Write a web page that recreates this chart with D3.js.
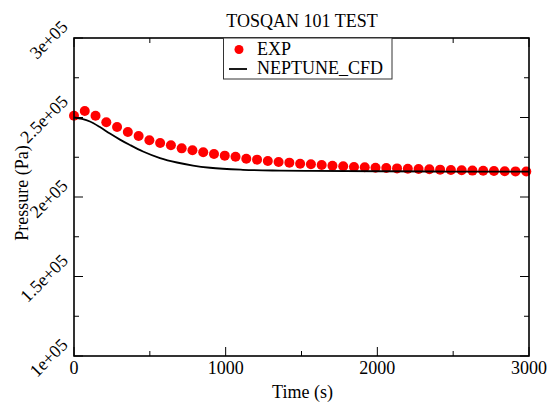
<!DOCTYPE html>
<html>
<head>
<meta charset="utf-8">
<script src="https://cdn.jsdelivr.net/npm/d3@7"></script>
<style>
  body { margin: 0; background: #fff; }
  text { font-family: "Liberation Serif", "DejaVu Serif", serif; fill: #000; }
</style>
</head>
<body>
<svg class="chart" width="552" height="403"></svg>
<script>
// chart size and plot margins
const w = 552
const h = 403
const margin = { top: 38, right: 23, bottom: 47, left: 74 }

// experimental points (time in s, pressure in Pa)
const expTime = [0, 71, 142, 213, 284, 355, 426, 497, 568, 639, 710, 781, 852, 923, 994,
  1065, 1136, 1207, 1278, 1349, 1420, 1491, 1562, 1633, 1704, 1775, 1846, 1917, 1988,
  2059, 2130, 2201, 2272, 2343, 2414, 2485, 2556, 2627, 2698, 2769, 2840, 2911, 2982]
const expPressure = [251100, 254100, 251100, 247000, 244000, 240900, 238400, 235700, 234000,
  232500, 230600, 229400, 228100, 227000, 226000, 225300, 224100, 223500, 222600, 222000,
  221600, 220900, 220600, 220100, 219700, 219300, 218900, 218700, 218400, 218200, 218000,
  217800, 217600, 217400, 217200, 217000, 216800, 216600, 216500, 216300, 216200, 216100, 216000]

// NEPTUNE_CFD curve
const cfdTime = [0, 53, 105, 171, 237, 303, 369, 455, 567, 679, 785, 897, 1114, 1358, 1556, 2017, 2479, 3000]
const cfdPressure = [250000, 249100, 247500, 244000, 239900, 236100, 232700, 228600, 224500,
  221700, 219800, 218400, 217100, 216600, 216400, 216200, 216000, 215900]

// tick values
const xMajor = [0, 1000, 2000, 3000]
const xMinor = [500, 1500, 2500]
const yMajor = [100000, 150000, 200000, 250000, 300000]
const yMinor = [125000, 175000, 225000, 275000]

const svg = d3.select('.chart')

const x = d3.scaleLinear().domain([0, 3000]).range([margin.left, w - margin.right])
const y = d3.scaleLinear().domain([100000, 300000]).range([h - margin.bottom, margin.top])

const x0 = x.range()[0]
const x1 = x.range()[1]
const y0 = y.range()[0]
const y1 = y.range()[1]

// experimental dots
const expData = expTime.map((t, i) => ({ t: t, p: expPressure[i] }))
svg.append('g').selectAll('circle').data(expData)
  .enter().append('circle')
    .attr('cx', d => x(d.t))
    .attr('cy', d => y(d.p))
    .attr('r', 5)
    .attr('fill', '#ff0000')

// cfd line on top of the dots
const cfdData = cfdTime.map((t, i) => ({ t: t, p: cfdPressure[i] }))
const line = d3.line()
    .x(d => x(d.t))
    .y(d => y(d.p))
    .curve(d3.curveMonotoneX)
svg.append('path')
  .datum(cfdData)
  .attr('d', line)
  .attr('fill', 'none')
  .attr('stroke', '#000')
  .attr('stroke-width', 1.8)

// frame
svg.append('rect')
  .attr('x', x0)
  .attr('y', y1)
  .attr('width', x1 - x0)
  .attr('height', y0 - y1)
  .attr('fill', 'none')
  .attr('stroke', '#000')
  .attr('stroke-width', 1.6)

// inward ticks on all four sides
const ticks = svg.append('g').attr('stroke', '#000').attr('stroke-width', 1)
const addXTicks = (vals, len) => {
  vals.forEach(v => {
    ticks.append('line').attr('x1', x(v)).attr('x2', x(v)).attr('y1', y0).attr('y2', y0 - len)
    ticks.append('line').attr('x1', x(v)).attr('x2', x(v)).attr('y1', y1).attr('y2', y1 + len)
  })
}
const addYTicks = (vals, len) => {
  vals.forEach(v => {
    ticks.append('line').attr('y1', y(v)).attr('y2', y(v)).attr('x1', x0).attr('x2', x0 + len)
    ticks.append('line').attr('y1', y(v)).attr('y2', y(v)).attr('x1', x1).attr('x2', x1 - len)
  })
}
addXTicks(xMajor, 9)
addXTicks(xMinor, 5)
addYTicks(yMajor, 9)
addYTicks(yMinor, 5)

// x tick labels
svg.append('g').selectAll('text').data(xMajor)
  .enter().append('text')
    .attr('x', d => x(d))
    .attr('y', 374)
    .attr('text-anchor', 'middle')
    .attr('font-size', 18)
    .text(d => d)

// y tick labels, rotated 45 degrees
const fmtY = d => d3.format('.2~e')(d).replace('e+', 'e+0')
const yLabels = svg.append('g').selectAll('text').data(yMajor)
  .enter().append('text')
    .attr('text-anchor', 'middle')
    .attr('font-size', 18)
    .text(fmtY)
yLabels.each(function (d) {
  const len = this.getComputedTextLength()
  const cx = 63.5 - 0.67 * len / 2
  const cy = y(d) + 1.5
  d3.select(this)
    .attr('x', 0)
    .attr('y', 0)
    .attr('dy', '0.35em')
    .attr('transform', 'translate(' + cx + ',' + cy + ') rotate(-45)')
})

// axis titles
svg.append('text')
  .attr('x', 302.5)
  .attr('y', 397.5)
  .attr('text-anchor', 'middle')
  .attr('font-size', 18)
  .text('Time (s)')

svg.append('text')
  .attr('transform', 'translate(28,193) rotate(-90)')
  .attr('text-anchor', 'middle')
  .attr('font-size', 18)
  .text('Pressure (Pa)')

// title
svg.append('text')
  .attr('x', 302)
  .attr('y', 26.5)
  .attr('text-anchor', 'middle')
  .attr('font-size', 18)
  .text('TOSQAN 101 TEST')

// legend
const legend = svg.append('g')
legend.append('rect')
  .attr('x', 223.5)
  .attr('y', 38)
  .attr('width', 168.5)
  .attr('height', 41)
  .attr('fill', '#fff')
  .attr('stroke', '#333')
  .attr('stroke-width', 1)
legend.append('circle')
  .attr('cx', 239)
  .attr('cy', 49.5)
  .attr('r', 4.5)
  .attr('fill', '#ff0000')
legend.append('line')
  .attr('x1', 229)
  .attr('x2', 247)
  .attr('y1', 69)
  .attr('y2', 69)
  .attr('stroke', '#000')
  .attr('stroke-width', 1.8)
legend.append('text')
  .attr('x', 257)
  .attr('y', 55)
  .attr('font-size', 18)
  .text('EXP')
legend.append('text')
  .attr('x', 257)
  .attr('y', 74)
  .attr('font-size', 18)
  .text('NEPTUNE_CFD')
</script>
</body>
</html>
